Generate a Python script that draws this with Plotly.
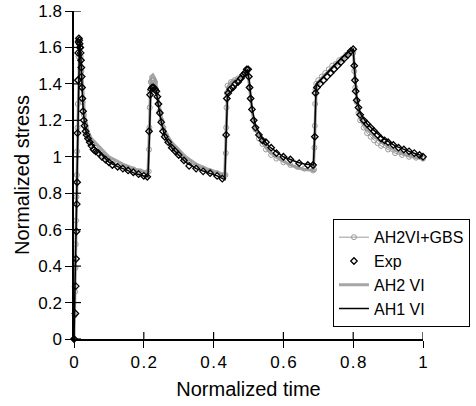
import plotly.graph_objects as go

# ---- model time grid (AH1 VI, AH2 VI) ----
t_model = [0, 0.004, 0.008, 0.012, 0.016, 0.02, 0.025, 0.03, 0.04, 0.05, 0.065, 0.08, 0.10, 0.12, 0.14, 0.16, 0.18, 0.20, 0.212,
           0.216, 0.22, 0.226, 0.232, 0.236, 0.24, 0.25, 0.26, 0.28, 0.30, 0.32, 0.35, 0.38, 0.41, 0.432,
           0.436, 0.44, 0.45, 0.46, 0.47, 0.48, 0.49, 0.497, 0.502, 0.51, 0.52, 0.54, 0.56, 0.58, 0.60, 0.62, 0.64, 0.66, 0.686,
           0.69, 0.694, 0.71, 0.73, 0.75, 0.77, 0.79, 0.80, 0.805, 0.81, 0.82, 0.84, 0.86, 0.88, 0.90, 0.92, 0.94, 0.96, 0.98, 1.0]

ah1_vi = [0, 0.4, 0.85, 1.3, 1.63, 1.53, 1.3, 1.17, 1.1, 1.07, 1.04, 1.01, 0.97, 0.95, 0.935, 0.92, 0.905, 0.895, 0.89,
          1.1, 1.37, 1.38, 1.38, 1.36, 1.3, 1.19, 1.11, 1.05, 1.01, 0.97, 0.935, 0.915, 0.895, 0.875,
          1.1, 1.34, 1.36, 1.38, 1.40, 1.42, 1.45, 1.48, 1.42, 1.27, 1.17, 1.1, 1.055, 1.025, 1.0, 0.985, 0.97, 0.96, 0.955,
          1.15, 1.40, 1.43, 1.47, 1.51, 1.55, 1.58, 1.59, 1.45, 1.33, 1.24, 1.18, 1.145, 1.11, 1.085, 1.06, 1.045, 1.03, 1.015, 1.005]

ah2_vi = [0, 0.35, 0.8, 1.25, 1.6, 1.55, 1.36, 1.23, 1.14, 1.1, 1.07, 1.04, 1.0, 0.98, 0.96, 0.945, 0.93, 0.92, 0.915,
          1.15, 1.44, 1.45, 1.43, 1.39, 1.33, 1.22, 1.14, 1.08, 1.04, 1.0, 0.96, 0.935, 0.915, 0.9,
          1.15, 1.38, 1.41, 1.42, 1.43, 1.44, 1.46, 1.47, 1.4, 1.25, 1.15, 1.08, 1.03, 1.0, 0.975, 0.955, 0.94, 0.93, 0.925,
          1.12, 1.38, 1.43, 1.47, 1.51, 1.54, 1.57, 1.58, 1.44, 1.31, 1.21, 1.15, 1.11, 1.08, 1.055, 1.035, 1.02, 1.005, 0.995, 0.99]

# ---- AH2VI+GBS ----
t_gbs = [0, 0.002, 0.003, 0.004, 0.005, 0.006, 0.007, 0.008, 0.009, 0.010, 0.011, 0.012, 0.013,
         0.015, 0.017, 0.019, 0.021, 0.023, 0.025, 0.028, 0.032, 0.036, 0.04,
         0.046, 0.052, 0.06, 0.07, 0.08, 0.095, 0.11, 0.13, 0.15, 0.17, 0.19, 0.21,
         0.214, 0.215, 0.216, 0.217, 0.218, 0.22, 0.224, 0.228, 0.232, 0.235, 0.238, 0.241, 0.245, 0.25,
         0.256, 0.263, 0.27, 0.28, 0.29, 0.30, 0.315, 0.33, 0.35, 0.37, 0.39, 0.41, 0.43,
         0.434, 0.435, 0.436, 0.437, 0.438, 0.44, 0.45, 0.46, 0.47, 0.48, 0.49, 0.497, 0.50,
         0.503, 0.506, 0.51, 0.515, 0.52, 0.53, 0.54, 0.55, 0.565, 0.58, 0.60, 0.62, 0.64, 0.66, 0.685,
         0.688, 0.689, 0.690, 0.691, 0.692, 0.694, 0.70, 0.71, 0.72, 0.73, 0.74, 0.75, 0.76, 0.77, 0.78, 0.79, 0.797, 0.80,
         0.803, 0.806, 0.81, 0.815, 0.82, 0.83, 0.84, 0.85, 0.86, 0.87, 0.88, 0.90, 0.92, 0.94, 0.96, 0.98, 1.0]

gbs = [0, 0.13, 0.26, 0.39, 0.52, 0.65, 0.78, 0.9, 1.03, 1.16, 1.29, 1.42, 1.55,
       1.62, 1.6, 1.55, 1.47, 1.38, 1.3, 1.23, 1.18, 1.14, 1.12,
       1.09, 1.07, 1.05, 1.03, 1.01, 0.99, 0.975, 0.955, 0.94, 0.93, 0.92, 0.915,
       0.92, 1.04, 1.16, 1.27, 1.36, 1.41, 1.42, 1.42, 1.41, 1.37, 1.33, 1.29, 1.25, 1.2,
       1.16, 1.12, 1.09, 1.06, 1.04, 1.02, 0.99, 0.97, 0.95, 0.935, 0.92, 0.91, 0.9,
       0.9, 1.02, 1.16, 1.27, 1.35, 1.39, 1.41, 1.42, 1.43, 1.44, 1.46, 1.47, 1.44,
       1.38, 1.32, 1.26, 1.2, 1.15, 1.1, 1.07, 1.04, 1.01, 0.99, 0.97, 0.955, 0.945, 0.935, 0.925,
       0.93, 1.05, 1.17, 1.29, 1.37, 1.4, 1.42, 1.44, 1.46, 1.48, 1.5, 1.51, 1.53, 1.54, 1.56, 1.57, 1.58, 1.57,
       1.47, 1.38, 1.3, 1.24, 1.2, 1.16, 1.13, 1.11, 1.09, 1.075, 1.06, 1.04, 1.02, 1.01, 1.0, 0.995, 0.99]

# ---- Experiment ----
t_exp = [0.0, 0.004, 0.005, 0.006, 0.007, 0.008, 0.009, 0.010, 0.011, 0.012, 0.013, 0.014, 0.015, 0.016, 0.017,
         0.018, 0.019, 0.02, 0.021, 0.022, 0.023, 0.024, 0.026, 0.028, 0.03, 0.033, 0.036, 0.04, 0.045, 0.05,
         0.056, 0.062, 0.07, 0.08, 0.09, 0.10, 0.11, 0.125, 0.14, 0.155, 0.17, 0.185, 0.20, 0.21,
         0.215, 0.218, 0.221, 0.224, 0.228, 0.232, 0.236, 0.239, 0.242, 0.246, 0.25, 0.255, 0.26, 0.27, 0.28,
         0.29, 0.30, 0.315, 0.33, 0.35, 0.37, 0.39, 0.41, 0.425,
         0.436, 0.438, 0.442, 0.448, 0.455, 0.462, 0.47, 0.478, 0.485, 0.49, 0.495, 0.499, 0.501, 0.503, 0.506,
         0.51, 0.515, 0.52, 0.53, 0.54, 0.55, 0.565, 0.58, 0.60, 0.62, 0.645, 0.67, 0.685,
         0.69, 0.692, 0.696, 0.705, 0.715, 0.725, 0.735, 0.745, 0.755, 0.765, 0.775, 0.785, 0.793, 0.80,
         0.803, 0.805, 0.807, 0.81, 0.815, 0.82, 0.83, 0.84, 0.85, 0.86, 0.87, 0.88, 0.89, 0.90,
         0.915, 0.93, 0.945, 0.96, 0.975, 0.99, 1.0]

exp = [0, 0.14, 0.29, 0.44, 0.59, 0.74, 0.86, 1.13, 1.42, 1.57, 1.63, 1.65, 1.64, 1.62, 1.6,
       1.6, 1.57, 1.53, 1.49, 1.44, 1.38, 1.32, 1.25, 1.2, 1.17, 1.14, 1.12, 1.1, 1.08, 1.06,
       1.04, 1.03, 1.02, 1.0, 0.985, 0.97, 0.955, 0.945, 0.935, 0.925, 0.915, 0.905, 0.895, 0.89,
       1.14, 1.34, 1.37, 1.38, 1.38, 1.37, 1.36, 1.33, 1.29, 1.24, 1.19, 1.14, 1.11, 1.08, 1.05,
       1.03, 1.01, 0.98, 0.95, 0.935, 0.92, 0.91, 0.895, 0.88,
       1.12, 1.32, 1.35, 1.37, 1.38, 1.40, 1.41, 1.43, 1.45, 1.46, 1.48, 1.48, 1.44, 1.38, 1.32,
       1.26, 1.2, 1.16, 1.12, 1.09, 1.08, 1.05, 1.02, 1.0, 0.985, 0.965, 0.955, 0.955,
       1.11, 1.35, 1.38, 1.40, 1.42, 1.44, 1.46, 1.48, 1.50, 1.52, 1.54, 1.56, 1.58, 1.59,
       1.5, 1.42, 1.36, 1.31, 1.27, 1.23, 1.2, 1.18, 1.16, 1.14, 1.12, 1.1, 1.09, 1.08,
       1.065, 1.05, 1.04, 1.03, 1.02, 1.01, 1.0]

x_ticks = [0, 0.2, 0.4, 0.6, 0.8, 1]
x_ticktext = ["0", "0\u200a.\u200a2", "0\u200a.\u200a4", "0\u200a.\u200a6", "0\u200a.\u200a8", "1"]
y_ticks = [0, 0.2, 0.4, 0.6, 0.8, 1, 1.2, 1.4, 1.6, 1.8]
y_ticktext = ["0", "0.2", "0.4", "0.6", "0.8", "1", "1.2", "1.4", "1.6", "1.8"]

fig = go.Figure()
fig.add_trace(go.Scatter(x=t_model, y=ah2_vi, mode="lines", name="AH2 VI",
                         line=dict(color="#a6a6a6", width=3), legendrank=3, cliponaxis=False))
fig.add_trace(go.Scatter(x=t_gbs, y=gbs, mode="lines+markers", name="AH2VI+GBS",
                         line=dict(color="#9a9a9a", width=1),
                         marker=dict(symbol="circle-open", size=5, color="#9a9a9a", line=dict(width=1)),
                         legendrank=1, cliponaxis=False))
fig.add_trace(go.Scatter(x=t_model, y=ah1_vi, mode="lines", name="AH1 VI",
                         line=dict(color="black", width=1.5), legendrank=4, cliponaxis=False))
fig.add_trace(go.Scatter(x=t_exp, y=exp, mode="markers", name="Exp",
                         marker=dict(symbol="diamond-open", size=5, color="black", line=dict(width=1.3)),
                         legendrank=2, cliponaxis=False))

# inner halves of the crossing tick marks (outer halves come from the axes)
shapes = []
for v in x_ticks:
    shapes.append(dict(type="line", xref="x", yref="y", x0=v, x1=v,
                       ysizemode="pixel", yanchor=0, y0=0, y1=7,
                       line=dict(color="black", width=1.2)))
for v in y_ticks:
    shapes.append(dict(type="line", xref="x", yref="y", y0=v, y1=v,
                       xsizemode="pixel", xanchor=0, x0=0, x1=7,
                       line=dict(color="black", width=1.2)))

font_family = "Liberation Sans, Arial, sans-serif"
fig.update_layout(
    width=476, height=406,
    margin=dict(l=74, r=53, t=11, b=67, autoexpand=False),
    paper_bgcolor="white", plot_bgcolor="white",
    font=dict(family=font_family, size=17, color="black"),
    showlegend=True,
    legend=dict(x=0.742, y=0.365, xanchor="left", yanchor="top",
                bgcolor="white", bordercolor="black", borderwidth=1,
                font=dict(size=16), itemwidth=30, tracegroupgap=0),
    shapes=shapes,
    xaxis=dict(range=[0, 1], tickmode="array", tickvals=x_ticks, ticktext=x_ticktext, ticks="outside", ticklen=7,
               tickwidth=1.2, tickcolor="black", showline=True, linecolor="black", linewidth=1.5,
               showgrid=False, zeroline=False, title=dict(text="Normalized time", standoff=11),
               tickfont=dict(size=17)),
    yaxis=dict(range=[0, 1.8], tickmode="array", tickvals=y_ticks, ticktext=y_ticktext, ticks="outside", ticklen=7,
               tickwidth=1.2, tickcolor="black", showline=True, linecolor="black", linewidth=1.5,
               showgrid=False, zeroline=False, title=dict(text="Normalized stress", standoff=3),
               tickfont=dict(size=17)),
)

fig.write_html("out.html")
